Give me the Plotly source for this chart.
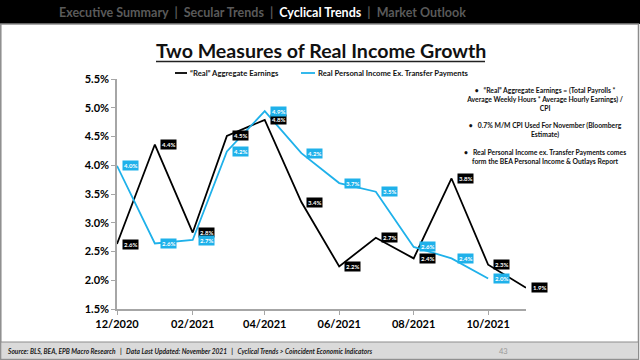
import plotly.graph_objects as go

months = ["2020-12-01", "2021-01-01", "2021-02-01", "2021-03-01", "2021-04-01", "2021-05-01",
          "2021-06-01", "2021-07-01", "2021-08-01", "2021-09-01", "2021-10-01", "2021-11-01"]
aggregate_earnings = [2.63, 4.36, 2.83, 4.51, 4.79, 3.36, 2.24, 2.74, 2.38, 3.77, 2.27, 1.87]
personal_income_months = months[:11]
personal_income = [3.99, 2.64, 2.70, 4.24, 4.94, 4.21, 3.69, 3.54, 2.58, 2.38, 2.03]

series_names = ["“Real” Aggregate Earnings", "Real Personal Income Ex. Transfer Payments"]
y_ticks = [1.5, 2.0, 2.5, 3.0, 3.5, 4.0, 4.5, 5.0, 5.5]

BLACK = "#000000"
BLUE = "#1FB1EA"
FONT = "Lato"

W, H = 640, 360
L, R, T, B = 117, 114, 79, 51
PW, PH = W - L - R, H - T - B


def px(x):
    return (x - L) / PW


def py(y):
    return (H - B - y) / PH


fig = go.Figure()
fig.add_trace(go.Scatter(x=months, y=aggregate_earnings, mode="lines", name=series_names[0],
                         line=dict(color=BLACK, width=1.8), showlegend=False))
fig.add_trace(go.Scatter(x=personal_income_months, y=personal_income, mode="lines",
                         name=series_names[1], line=dict(color=BLUE, width=1.8), showlegend=False))

annotations = []
for xs, ys, col in [(months, aggregate_earnings, BLACK), (personal_income_months, personal_income, BLUE)]:
    for xv, yv in zip(xs, ys):
        annotations.append(dict(x=xv, y=yv, xref="x", yref="y", text="<b>%.1f%%</b>" % yv,
                                showarrow=False, xanchor="left", yanchor="middle", xshift=5,
                                bgcolor=col, borderpad=1,
                                font=dict(family=FONT, size=6, color="white")))

shapes = []
# legend (drawn by hand)
for name, col, x0, x1 in [(series_names[0], BLACK, 175, 187), (series_names[1], BLUE, 301, 315)]:
    shapes.append(dict(type="line", xref="paper", yref="paper", x0=px(x0), x1=px(x1), y0=py(73), y1=py(73),
                       line=dict(color=col, width=1.8)))
    annotations.append(dict(x=px(x1 + 0.5), y=py(73), xref="paper", yref="paper", showarrow=False,
                            xanchor="left", yanchor="middle", text="<b>" + name + "</b>",
                            font=dict(family=FONT, size=7.7, color="#111111")))

# header
annotations.append(dict(
    x=px(262), y=py(12.5), xref="paper", yref="paper", showarrow=False, xanchor="center", yanchor="middle",
    text=("<b>Executive Summary  |  Secular Trends  |  "
          "<span style='color:white'>Cyclical Trends</span>  |  Market Outlook</b>"),
    font=dict(family=FONT, size=12.5, color="#5a5a5a")))
# title
annotations.append(dict(
    x=px(320.5), y=py(50), xref="paper", yref="paper", showarrow=False, xanchor="center", yanchor="middle",
    text="<b>Two Measures of Real Income Growth</b>", font=dict(family=FONT, size=19.6, color="#111111")))
# notes
notes = ("<b>•   “Real” Aggregate Earnings = (Total Payrolls *<br>"
         "Average Weekly Hours * Average Hourly Earnings) /<br>CPI<br><br>"
         "•   0.7% M/M CPI Used For November (Bloomberg<br>Estimate)<br><br>"
         "•   Real Personal Income ex. Transfer Payments comes<br>"
         "form the BEA Personal Income &amp; Outlays Report</b>")
annotations.append(dict(
    x=px(545), y=py(84), xref="paper", yref="paper", showarrow=False, xanchor="center", yanchor="top",
    align="center", text=notes, font=dict(family=FONT, size=6.8, color="#111111")))
# footer
annotations.append(dict(
    x=px(5), y=py(351), xref="paper", yref="paper", showarrow=False, xanchor="left", yanchor="middle",
    text=("<b><i>Source: BLS, BEA, EPB Macro Research   |   Data Last Updated: November 2021   |   "
          "Cyclical Trends &gt; Coincident Economic Indicators</i></b>"),
    font=dict(family=FONT, size=6.6, color="#1a1a1a")))
annotations.append(dict(
    x=px(503), y=py(351), xref="paper", yref="paper", showarrow=False, xanchor="center", yanchor="middle",
    text="43", font=dict(family=FONT, size=7.5, color="#999999")))

shapes += [
    dict(type="rect", xref="paper", yref="paper", x0=px(0), x1=px(640), y0=py(0), y1=py(24),
         fillcolor="black", line=dict(width=0), layer="below"),
    dict(type="rect", xref="paper", yref="paper", x0=px(0.8), x1=px(638.5), y0=py(24), y1=py(359.3),
         fillcolor="rgba(0,0,0,0)", line=dict(width=1.5, color="#8c8c8c"), layer="below"),
    dict(type="rect", xref="paper", yref="paper", x0=px(0.8), x1=px(638.5), y0=py(342), y1=py(359.3),
         fillcolor="#dadada", line=dict(width=1, color="#8c8c8c"), layer="below"),
    dict(type="line", xref="paper", yref="paper", x0=px(156), x1=px(485), y0=py(61.5), y1=py(61.5),
         line=dict(width=1.6, color="#222222")),
]

fig.update_layout(
    width=W, height=H,
    margin=dict(l=L, r=R, t=T, b=B),
    paper_bgcolor="white", plot_bgcolor="white",
    font=dict(family=FONT, color="black"),
    showlegend=False,
    annotations=annotations,
    shapes=shapes,
)
fig.update_xaxes(type="date", range=["2020-12-01", "2021-11-01"], tick0="2020-12-01", dtick="M2",
                 tickformat="%m/%Y", showgrid=False, zeroline=False, showline=True, linecolor="#a6a6a6",
                 linewidth=1.5, ticks="outside", ticklen=4, tickcolor="#a6a6a6",
                 tickfont=dict(family=FONT, size=11, color="black", weight="bold"))
fig.update_yaxes(range=[1.5, 5.5], tickvals=y_ticks, ticktext=["%.1f%%" % v for v in y_ticks],
                 showgrid=False, zeroline=False, showline=True, linecolor="#a6a6a6", linewidth=1.5,
                 ticks="outside", ticklen=4, tickcolor="#a6a6a6",
                 tickfont=dict(family=FONT, size=11, color="black", weight="bold"))

fig.write_html("out.html", post_script="document.body.style.margin='0';",
               config={"displayModeBar": False})
